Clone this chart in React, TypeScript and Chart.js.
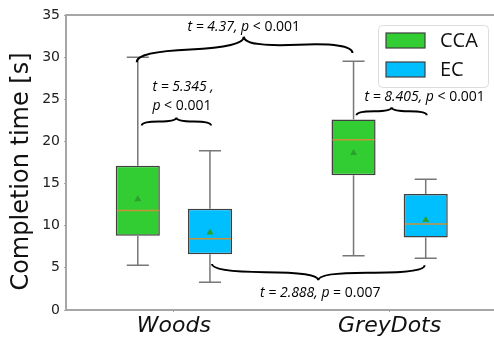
import { useEffect, useRef } from 'react';
import { Chart, registerables } from 'chart.js';

Chart.register(...registerables);

// ---- data ----
const categories = ['Woods', 'GreyDots'];
const seriesNames = ['CCA', 'EC'];

const ccaWhiskerLow = [5.3, 6.45];
const ccaQ1 = [8.8, 16.0];
const ccaMedian = [11.8, 20.2];
const ccaQ3 = [17.1, 22.6];
const ccaWhiskerHigh = [30.0, 29.5];
const ccaMean = [13.2, 18.7];

const ecWhiskerLow = [3.3, 6.15];
const ecQ1 = [6.6, 8.6];
const ecMedian = [8.45, 10.2];
const ecQ3 = [12.0, 13.75];
const ecWhiskerHigh = [18.9, 15.5];
const ecMean = [9.25, 10.75];

const yTicks = [0, 5, 10, 15, 20, 25, 30, 35];

// comparison braces: [category, series, value] anchors
const braceStart = [
  [0, 0, 29.4],
  [0, 0, 21.9],
  [1, 0, 23.1],
  [0, 1, 5.45],
];
const braceEnd = [
  [1, 0, 30.5],
  [0, 1, 21.9],
  [1, 1, 23.1],
  [1, 1, 5.3],
];
const braceLabels = [
  [['t = 4.37, p', ' < 0.001']],
  [['t = 5.345 ,', ''], ['p', ' < 0.001']],
  [['t = 8.405, p', ' < 0.001']],
  [['t = 2.888, p', ' = 0.007']],
];

// ---- layout / style (pixels) ----
const braceLayout = [
  { dx1: -1, dx2: -1, depth: -21, lx: 0, ly: -10, align: 'center' },
  { dx1: 4, dx2: 1, depth: -8, lx: -24, ly: -30, align: 'left' },
  { dx1: 3, dx2: 1, depth: -8, lx: 33, ly: -10, align: 'center' },
  { dx1: 2, dx2: -1, depth: 15.5, lx: 2, ly: 12.5, align: 'center' },
];

const statsBySeries = [
  { low: ccaWhiskerLow, q1: ccaQ1, med: ccaMedian, q3: ccaQ3, high: ccaWhiskerHigh, mean: ccaMean },
  { low: ecWhiskerLow, q1: ecQ1, med: ecMedian, q3: ecQ3, high: ecWhiskerHigh, mean: ecMean },
];
const seriesColors = ['#32cd32', '#00bfff'];

function drawBrace(ctx: CanvasRenderingContext2D, x1: number, y1: number, x2: number, y2: number, w: number, q: number) {
  let dx = x1 - x2;
  let dy = y1 - y2;
  const len = Math.hypot(dx, dy);
  dx /= len;
  dy /= len;
  const qx1 = x1 + q * w * dy, qy1 = y1 - q * w * dx;
  const qx2 = x1 - 0.25 * len * dx + (1 - q) * w * dy, qy2 = y1 - 0.25 * len * dy - (1 - q) * w * dx;
  const tx = x1 - 0.5 * len * dx + w * dy, ty = y1 - 0.5 * len * dy - w * dx;
  const qx3 = x2 + q * w * dy, qy3 = y2 - q * w * dx;
  const qx4 = x1 - 0.75 * len * dx + (1 - q) * w * dy, qy4 = y1 - 0.75 * len * dy - (1 - q) * w * dx;
  ctx.beginPath();
  ctx.moveTo(x1, y1);
  ctx.quadraticCurveTo(qx1, qy1, qx2, qy2);
  ctx.quadraticCurveTo(2 * qx2 - qx1, 2 * qy2 - qy1, tx, ty);
  ctx.moveTo(x2, y2);
  ctx.quadraticCurveTo(qx3, qy3, qx4, qy4);
  ctx.quadraticCurveTo(2 * qx4 - qx3, 2 * qy4 - qy3, tx, ty);
  ctx.stroke();
  return { tx, ty };
}

const italicFont = 'italic 14px "Open Sans"';
const normalFont = '14px "Open Sans"';

function drawMixed(ctx: CanvasRenderingContext2D, parts: string[], x: number, y: number, align: string) {
  ctx.font = italicFont;
  const w1 = ctx.measureText(parts[0]).width;
  ctx.font = normalFont;
  const w2 = ctx.measureText(parts[1]).width;
  const total = w1 + w2;
  let sx = align === 'center' ? x - total / 2 : x;
  ctx.textBaseline = 'middle';
  ctx.textAlign = 'left';
  ctx.fillStyle = '#000';
  ctx.font = italicFont;
  ctx.fillText(parts[0], sx, y);
  ctx.font = normalFont;
  ctx.fillText(parts[1], sx + w1, y);
}

const boxPlugin = {
  id: 'boxExtras',
  afterDatasetsDraw(chart: any) {
    const ctx: CanvasRenderingContext2D = chart.ctx;
    const y = chart.scales.y;
    const area = chart.chartArea;
    ctx.save();

    // whiskers, medians, means
    chart.data.datasets.forEach((ds: any, si: number) => {
      const meta = chart.getDatasetMeta(si);
      const st = statsBySeries[si];
      meta.data.forEach((bar: any, ci: number) => {
        const x = bar.x;
        const bw = bar.width;
        ctx.strokeStyle = '#777';
        ctx.lineWidth = 1.5;
        ctx.beginPath();
        ctx.moveTo(x, y.getPixelForValue(st.q3[ci]));
        ctx.lineTo(x, y.getPixelForValue(st.high[ci]));
        ctx.moveTo(x, y.getPixelForValue(st.q1[ci]));
        ctx.lineTo(x, y.getPixelForValue(st.low[ci]));
        ctx.moveTo(x - bw / 4, y.getPixelForValue(st.high[ci]));
        ctx.lineTo(x + bw / 4, y.getPixelForValue(st.high[ci]));
        ctx.moveTo(x - bw / 4, y.getPixelForValue(st.low[ci]));
        ctx.lineTo(x + bw / 4, y.getPixelForValue(st.low[ci]));
        ctx.stroke();
        // median
        ctx.strokeStyle = '#c9923a';
        ctx.lineWidth = 1.5;
        ctx.beginPath();
        const my = y.getPixelForValue(st.med[ci]);
        ctx.moveTo(x - bw / 2 + 1, my);
        ctx.lineTo(x + bw / 2 - 1, my);
        ctx.stroke();
        // mean triangle
        const ty = y.getPixelForValue(st.mean[ci]);
        ctx.fillStyle = '#2ca02c';
        ctx.beginPath();
        ctx.moveTo(x, ty - 3.5);
        ctx.lineTo(x + 3.5, ty + 2.5);
        ctx.lineTo(x - 3.5, ty + 2.5);
        ctx.closePath();
        ctx.fill();
      });
    });

    // top & right spines
    ctx.strokeStyle = '#a6a6a6';
    ctx.lineWidth = 2;
    ctx.beginPath();
    ctx.moveTo(area.left, area.top);
    ctx.lineTo(area.right, area.top);
    ctx.lineTo(area.right, area.bottom);
    ctx.stroke();

    // braces and labels
    ctx.strokeStyle = '#000';
    ctx.lineWidth = 2;
    braceStart.forEach((s, i) => {
      const e = braceEnd[i];
      const L = braceLayout[i];
      const x1 = chart.getDatasetMeta(s[1]).data[s[0]].x + L.dx1;
      const x2 = chart.getDatasetMeta(e[1]).data[e[0]].x + L.dx2;
      const y1 = y.getPixelForValue(s[2]);
      const y2 = y.getPixelForValue(e[2]);
      const { tx, ty } = drawBrace(ctx, x1, y1, x2, y2, L.depth, 0.5);
      const lines = braceLabels[i];
      lines.forEach((parts, li) => {
        drawMixed(ctx, parts, tx + L.lx, ty + L.ly + li * 19, L.align);
      });
    });

    // legend
    const lx = 378, ly = 25, lw = 110, lh = 62;
    ctx.fillStyle = 'rgba(255,255,255,0.85)';
    ctx.strokeStyle = '#dcdcdc';
    ctx.lineWidth = 1;
    ctx.beginPath();
    ctx.roundRect(lx + 0.5, ly + 0.5, lw, lh, 4);
    ctx.fill();
    ctx.stroke();
    chart.data.datasets.forEach((ds: any, si: number) => {
      const py = ly + 8 + si * 29;
      ctx.fillStyle = ds.backgroundColor;
      ctx.fillRect(lx + 8, py, 39, 15);
      ctx.strokeStyle = '#404040';
      ctx.lineWidth = 1.2;
      ctx.strokeRect(lx + 8, py, 39, 15);
      ctx.fillStyle = '#111';
      ctx.font = '20px "Open Sans"';
      ctx.textAlign = 'left';
      ctx.textBaseline = 'middle';
      ctx.fillText(ds.label, lx + 62, py + 8);
    });

    // y-axis title
    ctx.save();
    ctx.translate(22, 171.5);
    ctx.rotate(-Math.PI / 2);
    ctx.fillStyle = '#111';
    ctx.font = '24px "DejaVu Sans"';
    ctx.textAlign = 'center';
    ctx.textBaseline = 'middle';
    ctx.fillText('Completion time [s]', 0, 0);
    ctx.restore();

    ctx.restore();
  },
};

export default function App() {
  const ref = useRef<HTMLCanvasElement>(null);
  useEffect(() => {
    if (!ref.current) return;
    const chart = new Chart(ref.current, {
      type: 'bar',
      data: {
        labels: categories,
        datasets: seriesNames.map((name, si) => ({
          label: name,
          data: categories.map((_, ci) => [statsBySeries[si].q1[ci], statsBySeries[si].q3[ci]]),
          backgroundColor: seriesColors[si],
          borderColor: '#404040',
          borderWidth: 1.5,
          borderSkipped: false,
          categoryPercentage: 0.669,
          barPercentage: 0.611,
        })),
      },
      options: {
        responsive: false,
        animation: false,
        layout: { padding: { top: 15, right: 2.5, left: 0, bottom: 0 } },
        plugins: { legend: { display: false }, tooltip: { enabled: false } },
        scales: {
          x: {
            offset: true,
            grid: { display: true, drawOnChartArea: false, offset: false, tickLength: 2, color: '#a6a6a6' },
            border: { color: '#a6a6a6', width: 2 },
            ticks: { font: { family: 'DejaVu Sans', size: 22, style: 'italic' }, color: '#111', padding: 1 },
            afterFit: (s: any) => { s.height = 28; },
          },
          y: {
            min: 0,
            max: 35,
            afterBuildTicks: (s: any) => { s.ticks = yTicks.map((v) => ({ value: v })); },
            grid: { display: true, drawOnChartArea: false, tickLength: 2, color: '#a6a6a6' },
            border: { color: '#a6a6a6', width: 2 },
            ticks: { font: { family: 'DejaVu Sans', size: 14 }, color: '#222', padding: 4 },
            afterFit: (s: any) => { s.width = 66; },
          },
        },
      },
      plugins: [boxPlugin],
    } as any);
    return () => chart.destroy();
  }, []);
  return (
    <div style={{ position: 'absolute', left: 0, top: 0, width: 494, height: 338, overflow: 'hidden', background: '#fff' }}>
      <canvas ref={ref} width={500} height={338} style={{ display: 'block' }} />
    </div>
  );
}
